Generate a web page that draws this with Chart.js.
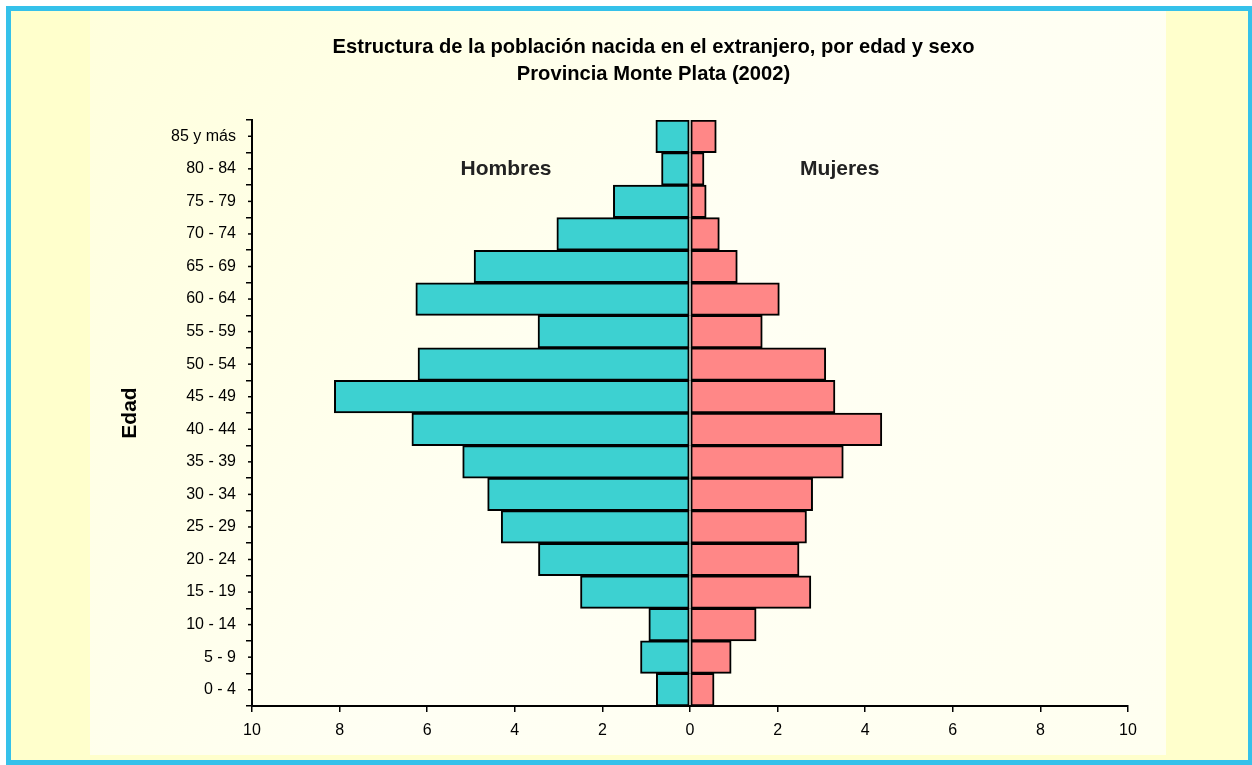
<!DOCTYPE html>
<html>
<head>
<meta charset="utf-8">
<script src="https://cdn.jsdelivr.net/npm/chart.js@4"></script>
<style>
  html, body { margin: 0; padding: 0; background: #fff; overflow: hidden; }
  #marco {
    position: absolute; left: 6px; top: 6px;
    width: 1237px; height: 749px;
    border: 5px solid #35c1ea;
    background: #ffffcc;
  }
  #grafico { display: block; }
</style>
</head>
<body>
<div id="marco"><canvas id="grafico" width="1237" height="749"></canvas></div>
<script>
// grupos de edad, de abajo hacia arriba
const grupos = ["0 - 4", "5 - 9", "10 - 14", "15 - 19", "20 - 24", "25 - 29", "30 - 34",
  "35 - 39", "40 - 44", "45 - 49", "50 - 54", "55 - 59", "60 - 64", "65 - 69",
  "70 - 74", "75 - 79", "80 - 84", "85 y más"];

// porcentajes
const hombres = [0.77, 1.13, 0.94, 2.50, 3.46, 4.31, 4.62, 5.19, 6.35, 8.12,
  6.21, 3.47, 6.26, 4.93, 3.04, 1.75, 0.65, 0.78];
const mujeres = [0.55, 0.94, 1.51, 2.76, 2.49, 2.66, 2.80, 3.50, 4.38, 3.31,
  3.10, 1.65, 2.04, 1.08, 0.67, 0.37, 0.32, 0.60];

const titulo = [
  "Estructura de la población nacida en el extranjero, por edad y sexo",
  "Provincia Monte Plata (2002)"
];

const letraNormal = "'Liberation Sans', Arial, sans-serif";

// fondo del area del grafico (un poco mas claro que el marco)
const fondo = {
  id: "fondo",
  beforeDraw(chart) {
    const ctx = chart.ctx;
    ctx.save();
    const g = ctx.createLinearGradient(79, 0, 1155, 744);
    g.addColorStop(0, "#ffffdc");
    g.addColorStop(0.5, "#fffff4");
    g.addColorStop(1, "#fffff0");
    ctx.fillStyle = g;
    ctx.fillRect(79, 0, 1076, 744);
    ctx.restore();
  }
};

// titulo (algo estrecho, como en el original), rotulos y marcas cortas del eje
const rotulos = {
  id: "rotulos",
  afterDraw(chart) {
    const ctx = chart.ctx;
    const x = chart.scales.x;
    const y = chart.scales.y;
    ctx.save();

    ctx.fillStyle = "#000";
    ctx.font = "bold 21px " + letraNormal;
    ctx.textAlign = "center";
    ctx.textBaseline = "alphabetic";
    const centro = (chart.width + 48) / 2;
    titulo.forEach((linea, i) => {
      ctx.save();
      ctx.translate(centro, 42 + i * 27);
      ctx.scale(0.96, 1);
      ctx.fillText(linea, 0, 0);
      ctx.restore();
    });

    ctx.fillStyle = "#222";
    ctx.textBaseline = "middle";
    const fila = y.getPixelForValue(16);
    ctx.fillText("Hombres", x.getPixelForValue(-4.2), fila);
    ctx.fillText("Mujeres", x.getPixelForValue(3.42), fila);

    ctx.strokeStyle = "#000";
    ctx.lineWidth = 1.5;
    const izq = chart.chartArea.left;
    y.ticks.forEach((t, i) => {
      const py = y.getPixelForTick(i);
      ctx.beginPath();
      ctx.moveTo(izq - 4, py);
      ctx.lineTo(izq, py);
      ctx.stroke();
    });
    ctx.restore();
  }
};

new Chart(document.querySelector("#grafico"), {
  type: "bar",
  data: {
    labels: grupos,
    datasets: [{
      label: "Hombres",
      data: hombres.map(v => -v),
      backgroundColor: "#3dd1d1",
      borderColor: "#000",
      borderWidth: 2,
      borderSkipped: false,
      barPercentage: 1,
      categoryPercentage: 1
    }, {
      label: "Mujeres",
      data: mujeres,
      backgroundColor: "#ff8787",
      borderColor: "#000",
      borderWidth: 2,
      borderSkipped: false,
      barPercentage: 1,
      categoryPercentage: 1
    }]
  },
  options: {
    indexAxis: "y",
    responsive: false,
    animation: false,
    layout: { padding: { top: 109, left: 0, right: 120, bottom: 0 } },
    plugins: {
      legend: { display: false },
      tooltip: { enabled: false },
      title: { display: false }
    },
    scales: {
      x: {
        stacked: true,
        min: -10,
        max: 10,
        border: { color: "#000", width: 2 },
        grid: { drawOnChartArea: false, tickLength: 6, color: "#000", lineWidth: 1.5 },
        ticks: {
          stepSize: 2,
          color: "#000",
          font: { family: letraNormal, size: 16 },
          padding: 9,
          callback: v => Math.abs(v)
        },
        afterFit(s) { s.height = 54; }
      },
      y: {
        stacked: true,
        reverse: true,
        border: { color: "#000", width: 2 },
        grid: { drawOnChartArea: false, tickLength: 6, color: "#000", lineWidth: 1.5, offset: true },
        ticks: {
          color: "#000",
          font: { family: letraNormal, size: 16 },
          padding: 10
        },
        title: {
          display: true,
          text: "Edad",
          color: "#000",
          font: { family: letraNormal, size: 21, weight: "bold" },
          padding: { top: 107, bottom: 0 }
        },
        afterFit(s) { s.width = 241; }
      }
    }
  },
  plugins: [fondo, rotulos]
});
</script>
</body>
</html>
